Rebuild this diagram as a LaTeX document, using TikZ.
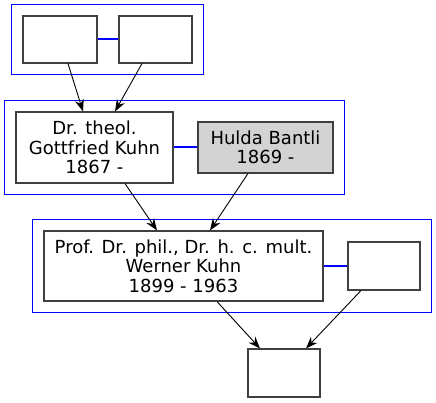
\documentclass[tikz,border=0pt]{standalone}
\usepackage{fontspec}
\setmainfont{DejaVu Sans}
\usepackage{xcolor}
\usepackage{tikz}
\usetikzlibrary{arrows.meta}
\usetikzlibrary{positioning}
\usetikzlibrary{calc,fit,backgrounds}
\definecolor{huldagray}{HTML}{D3D3D3}
\definecolor{clusterblue}{HTML}{0000FF}
\begin{document}
\begin{tikzpicture}[x=1pt,y=-1pt,->,>={Stealth[length=12pt,width=9pt,inset=4pt]},
                    line width=0.9pt]
 \tikzstyle{person}=[draw=black!75, line width=1.1pt, fill=white, shape=rectangle,
   inner sep=0pt, align=center, font=\fontsize{18}{19.5}\selectfont]
 \tikzstyle{cluster}=[draw=clusterblue, line width=1pt, inner sep=10.5pt]
 \tikzstyle{couple}=[-, draw=clusterblue, line width=2pt]
 \useasboundingbox (0,0) rectangle (436,403);
  \node[person, minimum width=74pt, minimum height=47pt] (p1) at (60,39.5) {};
  \node[person, minimum width=73pt, minimum height=47pt] (p2) at (155.5,39.5) {};
  \node[person, minimum width=157pt, minimum height=71pt] (gottfried) at (94.5,147.5)
       {Dr. theol.\\ Gottfried Kuhn\\ 1867 -};
  \node[person, fill=huldagray, minimum width=135pt, minimum height=51pt] (hulda) at (265.5,147.5)
       {Hulda Bantli\\ 1869 -};
  \node[person, minimum width=279pt, minimum height=70pt] (werner) at (183.5,266)
       {Prof. Dr. phil., Dr. h. c. mult.\\ Werner Kuhn\\ 1899 - 1963};
  \node[person, minimum width=72pt, minimum height=48pt] (p3) at (384,266) {};
  \node[person, minimum width=72pt, minimum height=48pt] (child) at (284,373) {};
 % family clusters
 \begin{scope}[on background layer]
 \node[cluster, fit=(p1)(p2)] (fam1) {};
 \node[cluster, fit=(gottfried)(hulda)] (fam2) {};
 \node[cluster, fit=(werner)(p3)] (fam3) {};
 \end{scope}
\path (p1) edge[couple] (p2)
      (gottfried) edge[couple] (hulda)
      (werner) edge[couple] (p3);
\draw ([xshift=8pt]p1.south) -- ([xshift=-11.5pt]gottfried.north);
\draw ([xshift=-13.5pt]p2.south) -- ([xshift=20.5pt]gottfried.north);
\draw ([xshift=30.5pt]gottfried.south) -- ([xshift=-26.5pt]werner.north);
\draw ([xshift=-17.5pt]hulda.south) -- ([xshift=26.5pt]werner.north);
\draw ([xshift=33.5pt]werner.south) -- ([xshift=-24pt]child.north);
\draw ([xshift=-23pt]p3.south) -- ([xshift=22pt]child.north);
\end{tikzpicture}
\end{document}
